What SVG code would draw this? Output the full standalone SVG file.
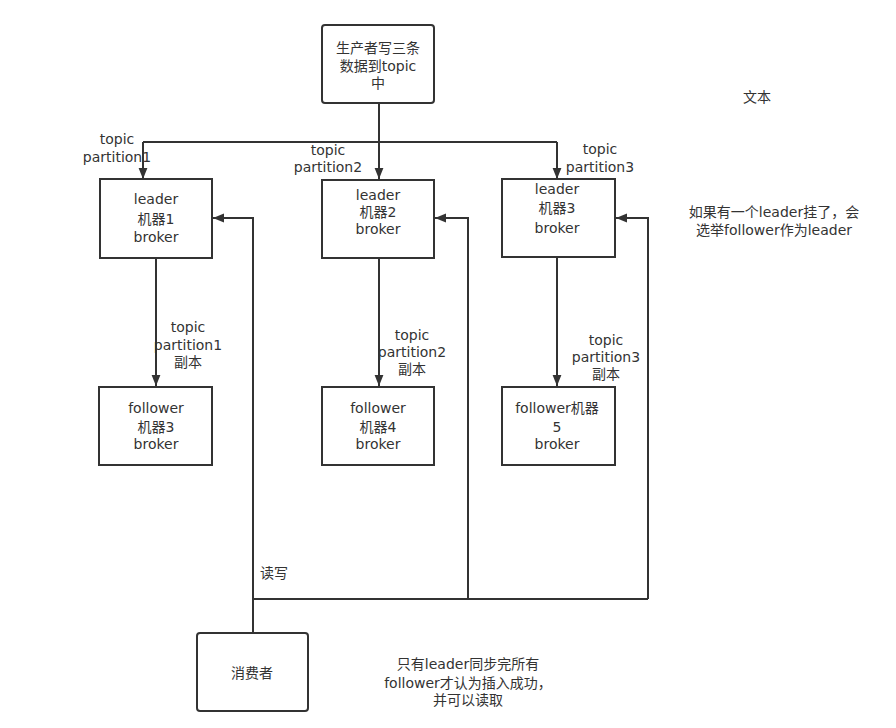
<svg xmlns="http://www.w3.org/2000/svg" width="896" height="728" viewBox="0 0 896 728">
<defs>
<style>
.box{fill:#fff;stroke:#333;stroke-width:2}
.ln{fill:none;stroke:#333;stroke-width:2}
text{font-family:"DejaVu Sans","Noto Sans CJK SC",sans-serif;font-size:14px;fill:#333;text-anchor:middle}
</style>
<marker id="ah" viewBox="0 0 10 10" refX="10" refY="5" markerWidth="11" markerHeight="11" markerUnits="userSpaceOnUse" orient="auto">
<path d="M0,1 L10,5 L0,9 Z" fill="#333"/>
</marker>
</defs>
<rect width="896" height="728" fill="#fff"/>
<g id="connectors">
<path class="ln" d="M379,103 V179" marker-end="url(#ah)"/>
<path class="ln" d="M143,142 H557"/>
<path class="ln" d="M143,142 V179" marker-end="url(#ah)"/>
<path class="ln" d="M557,142 V179" marker-end="url(#ah)"/>
<path class="ln" d="M156,258 V386" marker-end="url(#ah)"/>
<path class="ln" d="M379,258 V386" marker-end="url(#ah)"/>
<path class="ln" d="M557,257 V386" marker-end="url(#ah)"/>
<path class="ln" d="M253,632 V218 H213" marker-end="url(#ah)"/>
<path class="ln" d="M468,599 V218 H435" marker-end="url(#ah)"/>
<path class="ln" d="M648,599 V218 H616" marker-end="url(#ah)"/>
<path class="ln" d="M253,599 H648"/>
<text x="117" y="144">topic<tspan x="117" dy="18">partition1</tspan></text>
<text x="328" y="155">topic<tspan x="328" dy="17">partition2</tspan></text>
<text x="600" y="154">topic<tspan x="600" dy="18">partition3</tspan></text>
<text x="188" y="332">topic<tspan x="188" dy="18">partition1</tspan><tspan x="188" dy="17">副本</tspan></text>
<text x="412" y="340">topic<tspan x="412" dy="17">partition2</tspan><tspan x="412" dy="17">副本</tspan></text>
<text x="606" y="345">topic<tspan x="606" dy="17">partition3</tspan><tspan x="606" dy="17">副本</tspan></text>
<text x="274" y="578">读写</text>
</g>
<g id="producer">
<rect class="box" x="322" y="25" width="112" height="78" rx="3"/>
<text x="378" y="53">生产者写三条<tspan x="378" dy="18">数据到topic</tspan><tspan x="378" dy="17">中</tspan></text>
</g>
<g id="leader1">
<rect class="box" x="100" y="179" width="112" height="79"/>
<text x="156" y="204">leader<tspan x="156" dy="20">机器1</tspan><tspan x="156" dy="18">broker</tspan></text>
</g>
<g id="leader2">
<rect class="box" x="322" y="180" width="112" height="78"/>
<text x="378" y="200">leader<tspan x="378" dy="17">机器2</tspan><tspan x="378" dy="17">broker</tspan></text>
</g>
<g id="leader3">
<rect class="box" x="502" y="179" width="113" height="78"/>
<text x="557" y="194">leader<tspan x="557" dy="19">机器3</tspan><tspan x="557" dy="20">broker</tspan></text>
</g>
<g id="follower1">
<rect class="box" x="99" y="387" width="113" height="78"/>
<text x="156" y="413">follower<tspan x="156" dy="19">机器3</tspan><tspan x="156" dy="17">broker</tspan></text>
</g>
<g id="follower2">
<rect class="box" x="322" y="387" width="112" height="78"/>
<text x="378" y="413">follower<tspan x="378" dy="19">机器4</tspan><tspan x="378" dy="17">broker</tspan></text>
</g>
<g id="follower3">
<rect class="box" x="502" y="387" width="113" height="78"/>
<text x="557" y="413">follower机器<tspan x="557" dy="19">5</tspan><tspan x="557" dy="17">broker</tspan></text>
</g>
<g id="consumer">
<rect class="box" x="197" y="633" width="111" height="78" rx="3"/>
<text x="252" y="678">消费者</text>
</g>
<g id="notes">
<text x="757" y="102">文本</text>
<text x="774" y="217">如果有一个leader挂了，会<tspan x="774" dy="18">选举follower作为leader</tspan></text>
<text x="468" y="669">只有leader同步完所有<tspan x="468" dy="19">follower才认为插入成功，</tspan><tspan x="468" dy="17">并可以读取</tspan></text>
</g>
</svg>
